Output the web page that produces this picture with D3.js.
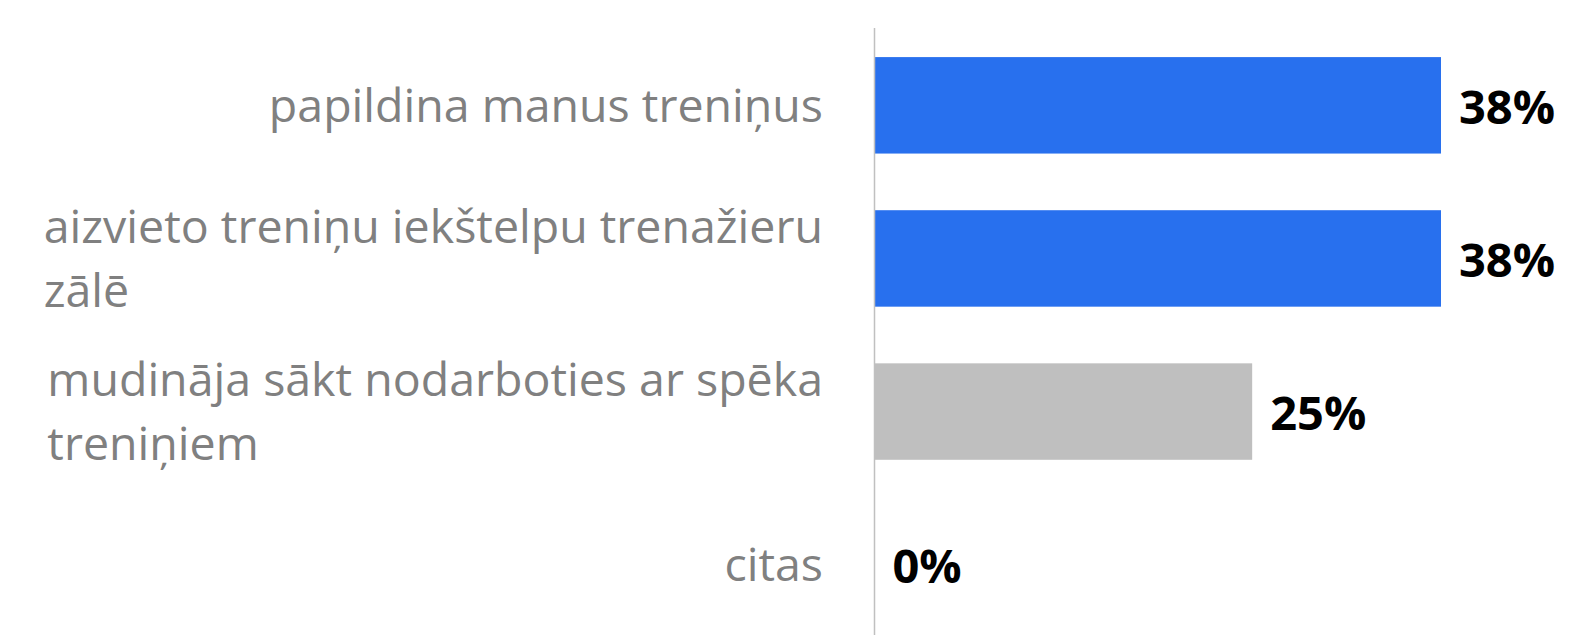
<!DOCTYPE html>
<html>
<head>
<meta charset="utf-8">
<script src="https://cdn.jsdelivr.net/npm/d3@7"></script>
<style>
  body { margin: 0; background: #fff; }
  svg { display: block; }
</style>
</head>
<body>
<div id="chart"></div>
<script>
// data
let categories = [
    "papildina manus treniņus",
    "aizvieto treniņu iekštelpu trenažieru\nzālē",
    "mudināja sākt nodarboties ar spēka\ntreniņiem",
    "citas"
];
let values = [37.5, 37.5, 25, 0];
let barColors = ["#2870ee", "#2870ee", "#bfbfbf", "#bfbfbf"];

let width = 1572, height = 635;
let axisX = 874.5;

let svg = d3.select("#chart").append("svg")
    .attr("width", width)
    .attr("height", height);

let x = d3.scaleLinear()
    .domain([0, 37.5])
    .range([axisX, 1441]);

let y = d3.scaleBand()
    .domain(categories)
    .range([28, 642])
    .paddingInner(0.37)
    .paddingOuter(0.19);

// bars
svg.selectAll(".bar")
    .data(categories)
    .enter().append("rect")
    .attr("class", "bar")
    .attr("x", axisX)
    .attr("y", d => y(d))
    .attr("width", (d, i) => x(values[i]) - axisX)
    .attr("height", y.bandwidth())
    .attr("fill", (d, i) => barColors[i]);

// axis line
svg.append("line")
    .attr("x1", axisX).attr("x2", axisX)
    .attr("y1", 28).attr("y2", height)
    .attr("stroke", "#c0c0c0")
    .attr("stroke-width", 1.5);

// category labels, block right edge at 823, lines left aligned
let labelRight = 823;
let lineH = 64;
categories.forEach(c => {
    let lines = c.split("\n");
    let cy = y(c) + y.bandwidth() / 2;
    let g = svg.append("g").attr("class", "catlabel");
    lines.forEach((ln, j) => {
        g.append("text")
            .attr("y", cy + (j - (lines.length - 1) / 2) * lineH)
            .attr("dy", "0.35em")
            .attr("font-family", "'Open Sans', sans-serif")
            .attr("font-size", 46.5)
            .attr("fill", "#808080")
            .text(ln);
    });
    let maxW = d3.max(g.selectAll("text").nodes(), n => n.getComputedTextLength());
    g.selectAll("text").attr("x", labelRight - maxW);
});

// value labels
svg.selectAll(".vlabel")
    .data(categories)
    .enter().append("text")
    .attr("class", "vlabel")
    .attr("x", (d, i) => x(values[i]) + 18)
    .attr("y", d => y(d) + y.bandwidth() / 2)
    .attr("dy", "0.4em")
    .attr("font-family", "'Open Sans', sans-serif")
    .attr("font-weight", "bold")
    .attr("font-size", 47)
    .attr("fill", "#000")
    .text((d, i) => Math.round(values[i]) + "%");
</script>
</body>
</html>
